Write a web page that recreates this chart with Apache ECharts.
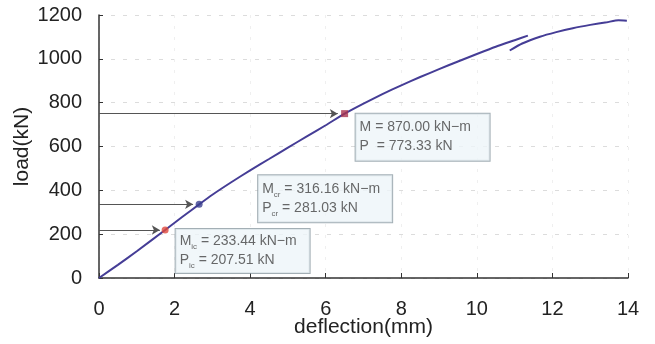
<!DOCTYPE html>
<html>
<head>
<meta charset="utf-8">
<script src="https://cdn.jsdelivr.net/npm/echarts@6/dist/echarts.min.js"></script>
<style>
  html, body { margin: 0; padding: 0; background: #fff; }
  #main { width: 655px; height: 344px; }
</style>
</head>
<body>
<div id="main"></div>
<script>
// load-deflection curve (deflection mm, load kN)
const curveMain = [
  [0, 0], [0.5, 60], [1, 122], [1.75, 219], [2.2, 278], [2.65, 336],
  [3, 380], [3.5, 437], [4, 491], [4.5, 543], [5, 595], [5.5, 646], [6, 697],
  [6.5, 750], [7, 796], [7.5, 839], [8, 879], [8.5, 917], [9, 953], [9.5, 988],
  [10, 1022], [10.5, 1055], [11, 1085], [11.35, 1106]
]
const curveTail = [
  [10.87, 1038], [11.2, 1070], [11.67, 1101], [12.1, 1122], [12.54, 1140],
  [13.0, 1155], [13.44, 1167], [13.75, 1176], [13.97, 1174]
]
// marked points: ic, cr, M
const markX = [1.75, 2.65, 6.5]
const markY = [219, 336, 750]
const arrowEndX = [1.61, 2.49, 6.32]
const markTexts = [
  '{t|M}{s|ic}{t| = 233.44 kN−m}\n{t|P}{s|ic}{t| = 207.51 kN}',
  '{t|M}{s|cr}{t| = 316.16 kN−m}\n{t|P}{s|cr}{t| = 281.03 kN}',
  '{t|M = 870.00 kN−m}\n{t|P  = 773.33 kN}'
]
const xTicks = [0, 14, 2]
const yTicks = [0, 1200, 200]

const font = 'Liberation Sans, Arial, sans-serif'
const myChart = echarts.init(document.getElementById('main'))

const markColors = ['#e0483c', '#3a3f8f', '#a8324e']
const markSymbols = ['circle', 'circle', 'rect']
const labelPos = [[14, 2.5], [62.5, -25.5], [14.5, 3.5]]
const labelPad = [[3, 4, 3, 4], [4, 4, 5, 4], [4, 4, 5, 4]]

const points = markX.map((x, i) => ({
  value: [x, markY[i]],
  symbol: markSymbols[i],
  itemStyle: { color: markColors[i] },
  label: {
    show: true,
    position: labelPos[i],
    formatter: markTexts[i],
    backgroundColor: '#eef5f9',
    borderColor: '#8c9ba3',
    borderWidth: 1,
    padding: labelPad[i],
    width: 126,
    lineHeight: 19,
    rich: {
      t: { fontSize: 14, color: '#444', fontFamily: font, lineHeight: 19 },
      s: { fontSize: 8, color: '#444', fontFamily: font, verticalAlign: 'bottom', lineHeight: 12 }
    }
  }
}))

const arrows = markY.map((y, i) => [
  { coord: [0, y] },
  { coord: [arrowEndX[i], y] }
])

const option = {
  animation: false,
  grid: { left: 99, right: 27, top: 15, bottom: 66, outerBoundsMode: 'none', containLabel: false },
  xAxis: {
    type: 'value',
    min: xTicks[0],
    max: xTicks[1],
    interval: xTicks[2],
    name: 'deflection(mm)',
    nameLocation: 'middle',
    nameGap: 39,
    nameMoveOverlap: false,
    nameTextStyle: { fontSize: 21, color: '#222', fontFamily: font },
    axisLine: { lineStyle: { color: '#333', width: 1.5 } },
    axisTick: { inside: true, length: 5, lineStyle: { color: '#333' } },
    axisLabel: { fontSize: 20, color: '#222', margin: 21, fontFamily: font, formatter: v => String(v) },
    splitLine: { show: true, lineStyle: { color: '#efefef', type: [3, 8] } }
  },
  yAxis: {
    type: 'value',
    min: yTicks[0],
    max: yTicks[1],
    interval: yTicks[2],
    name: 'load(kN)',
    nameLocation: 'middle',
    nameGap: 66,
    nameMoveOverlap: false,
    nameTextStyle: { fontSize: 21, color: '#222', fontFamily: font },
    axisLine: { show: true, lineStyle: { color: '#333', width: 1.5 } },
    axisTick: { show: true, inside: true, length: 4, lineStyle: { color: '#333' } },
    axisLabel: { fontSize: 20, color: '#222', margin: 17, fontFamily: font, formatter: v => String(v) },
    splitLine: { show: true, lineStyle: { color: '#dcdcdc', type: [4, 8] } }
  },
  series: [
    {
      type: 'line',
      data: curveMain,
      showSymbol: false,
      smooth: 0.2,
      lineStyle: { color: '#453d96', width: 2 },
      markLine: {
        silent: true,
        symbol: ['none', 'arrow'],
        symbolSize: [7, 8],
        label: { show: false },
        lineStyle: { color: '#555', width: 1, type: 'solid' },
        data: arrows
      }
    },
    {
      type: 'line',
      data: curveTail,
      showSymbol: false,
      smooth: 0.2,
      lineStyle: { color: '#453d96', width: 2 }
    },
    {
      type: 'scatter',
      symbolSize: 7,
      z: 5,
      data: points
    }
  ]
}
myChart.setOption(option)
</script>
</body>
</html>
